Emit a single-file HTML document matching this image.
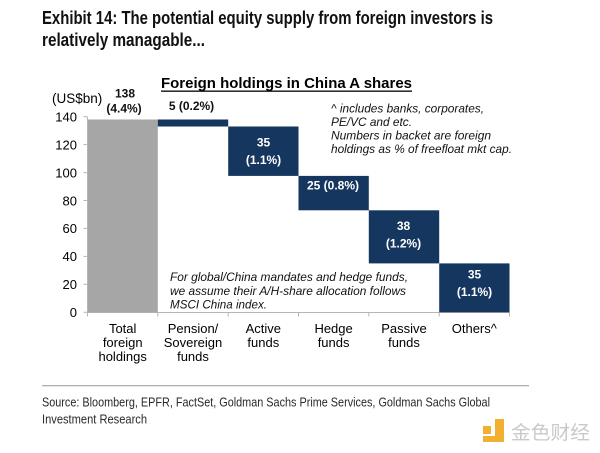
<!DOCTYPE html>
<html><head><meta charset="utf-8"><style>
html,body{margin:0;padding:0;background:#fff;}
svg{display:block;}
</style></head><body>
<svg width="600" height="453" viewBox="0 0 600 453" xmlns="http://www.w3.org/2000/svg">
<rect width="600" height="453" fill="#fff"/>
<!-- Title -->
<g font-family="Liberation Sans, Arial, sans-serif" font-weight="bold" font-size="18" fill="#111">
<text x="42" y="24" textLength="451" lengthAdjust="spacingAndGlyphs">Exhibit 14: The potential equity supply from foreign investors is</text>
<text x="42" y="46" textLength="163" lengthAdjust="spacingAndGlyphs">relatively managable...</text>
</g>
<!-- Chart title -->
<text x="161" y="88" font-family="Liberation Sans, Arial, sans-serif" font-weight="bold" font-size="14.5" fill="#000" textLength="251" lengthAdjust="spacingAndGlyphs">Foreign holdings in China A shares</text>
<rect x="161" y="90.5" width="251" height="1.3" fill="#000"/>
<!-- unit -->
<text x="52" y="103" font-family="Liberation Sans, Arial, sans-serif" font-size="13.5" fill="#000">(US$bn)</text>
<!-- Y axis labels -->
<g font-family="Liberation Sans, Arial, sans-serif" font-size="13" fill="#000" text-anchor="end">
<text x="77" y="121.5">140</text>
<text x="77" y="149.4">120</text>
<text x="77" y="177.3">100</text>
<text x="77" y="205.3">80</text>
<text x="77" y="233.2">60</text>
<text x="77" y="261.1">40</text>
<text x="77" y="289">20</text>
<text x="77" y="317">0</text>
</g>
<!-- axes -->
<g stroke="#b5b5b5" stroke-width="1">
<line x1="87.5" y1="116.7" x2="87.5" y2="312.5"/>
<line x1="83.5" y1="116.7" x2="87.5" y2="116.7"/>
<line x1="83.5" y1="144.6" x2="87.5" y2="144.6"/>
<line x1="83.5" y1="172.6" x2="87.5" y2="172.6"/>
<line x1="83.5" y1="200.5" x2="87.5" y2="200.5"/>
<line x1="83.5" y1="228.4" x2="87.5" y2="228.4"/>
<line x1="83.5" y1="256.4" x2="87.5" y2="256.4"/>
<line x1="83.5" y1="284.3" x2="87.5" y2="284.3"/>
<line x1="83.5" y1="312.3" x2="87.5" y2="312.3"/>
<line x1="87.5" y1="312.5" x2="509.5" y2="312.5"/>
<line x1="87.5" y1="312.5" x2="87.5" y2="316.5"/>
<line x1="157.8" y1="312.5" x2="157.8" y2="316.5"/>
<line x1="228.2" y1="312.5" x2="228.2" y2="316.5"/>
<line x1="298.5" y1="312.5" x2="298.5" y2="316.5"/>
<line x1="368.8" y1="312.5" x2="368.8" y2="316.5"/>
<line x1="439.2" y1="312.5" x2="439.2" y2="316.5"/>
<line x1="509.5" y1="312.5" x2="509.5" y2="316.5"/>
</g>
<!-- bars -->
<rect x="88" y="119.5" width="69.8" height="192.8" fill="#a6a6a6"/>
<rect x="157.8" y="119.5" width="70.4" height="7" fill="#15365e"/>
<rect x="228.2" y="126.5" width="70.3" height="49.4" fill="#15365e"/>
<rect x="298.5" y="175.9" width="70.3" height="34.4" fill="#15365e"/>
<rect x="368.8" y="210.3" width="70.4" height="53.1" fill="#15365e"/>
<rect x="439.2" y="263.4" width="70.3" height="48.9" fill="#15365e"/>
<!-- bar labels -->
<g font-family="Liberation Sans, Arial, sans-serif" font-weight="bold" font-size="12" text-anchor="middle">
<text x="125" y="97.5" fill="#111">138</text>
<text x="124" y="112.3" fill="#111">(4.4%)</text>
<text x="191.5" y="110" fill="#111">5 (0.2%)</text>
<text x="263.5" y="146.7" fill="#fff">35</text>
<text x="263.5" y="164" fill="#fff">(1.1%)</text>
<text x="333" y="189.3" fill="#fff">25 (0.8%)</text>
<text x="403.5" y="230" fill="#fff">38</text>
<text x="403.5" y="247.3" fill="#fff">(1.2%)</text>
<text x="474.5" y="278.3" fill="#fff">35</text>
<text x="474.5" y="296" fill="#fff">(1.1%)</text>
</g>
<!-- notes -->
<g font-family="Liberation Sans, Arial, sans-serif" font-style="italic" font-size="12" fill="#111">
<text x="331" y="112.7" textLength="153" lengthAdjust="spacingAndGlyphs">^ includes banks, corporates,</text>
<text x="331" y="126.2" textLength="81" lengthAdjust="spacingAndGlyphs">PE/VC and etc.</text>
<text x="331" y="139.6" textLength="160" lengthAdjust="spacingAndGlyphs">Numbers in backet are foreign</text>
<text x="331" y="153.2" textLength="181" lengthAdjust="spacingAndGlyphs">holdings as % of freefloat mkt cap.</text>
<text x="170" y="281" textLength="238" lengthAdjust="spacingAndGlyphs">For global/China mandates and hedge funds,</text>
<text x="170" y="295" textLength="236" lengthAdjust="spacingAndGlyphs">we assume their A/H-share allocation follows</text>
<text x="170" y="308.5" textLength="97" lengthAdjust="spacingAndGlyphs">MSCI China index.</text>
</g>
<!-- x labels -->
<g font-family="Liberation Sans, Arial, sans-serif" font-size="13" fill="#000" text-anchor="middle">
<text x="122.7" y="333">Total</text>
<text x="122.7" y="347">foreign</text>
<text x="122.7" y="361">holdings</text>
<text x="193" y="333">Pension/</text>
<text x="193" y="347">Sovereign</text>
<text x="193" y="361">funds</text>
<text x="263.3" y="333">Active</text>
<text x="263.3" y="347">funds</text>
<text x="333.6" y="333">Hedge</text>
<text x="333.6" y="347">funds</text>
<text x="404" y="333">Passive</text>
<text x="404" y="347">funds</text>
<text x="474.3" y="333">Others^</text>
</g>
<!-- separator -->
<rect x="42" y="385" width="487" height="1.3" fill="#b0b0b0"/>
<!-- source -->
<g font-family="Liberation Sans, Arial, sans-serif" font-size="12.5" fill="#2a2a2a">
<text x="42" y="406.5" textLength="448" lengthAdjust="spacingAndGlyphs">Source: Bloomberg, EPFR, FactSet, Goldman Sachs Prime Services, Goldman Sachs Global</text>
<text x="42" y="423.5" textLength="105" lengthAdjust="spacingAndGlyphs">Investment Research</text>
</g>
<!-- watermark -->
<g fill="#f2b030">
<rect x="483" y="426" width="8" height="8"/>
<rect x="495" y="419" width="9" height="23"/>
<rect x="483" y="436" width="21" height="6"/>
</g>
<text x="511" y="439" font-family="Noto Sans CJK SC, WenQuanYi Zen Hei, sans-serif" font-size="19" fill="#c9c9c9" textLength="79" lengthAdjust="spacingAndGlyphs">金色财经</text>
</svg>
</body></html>
